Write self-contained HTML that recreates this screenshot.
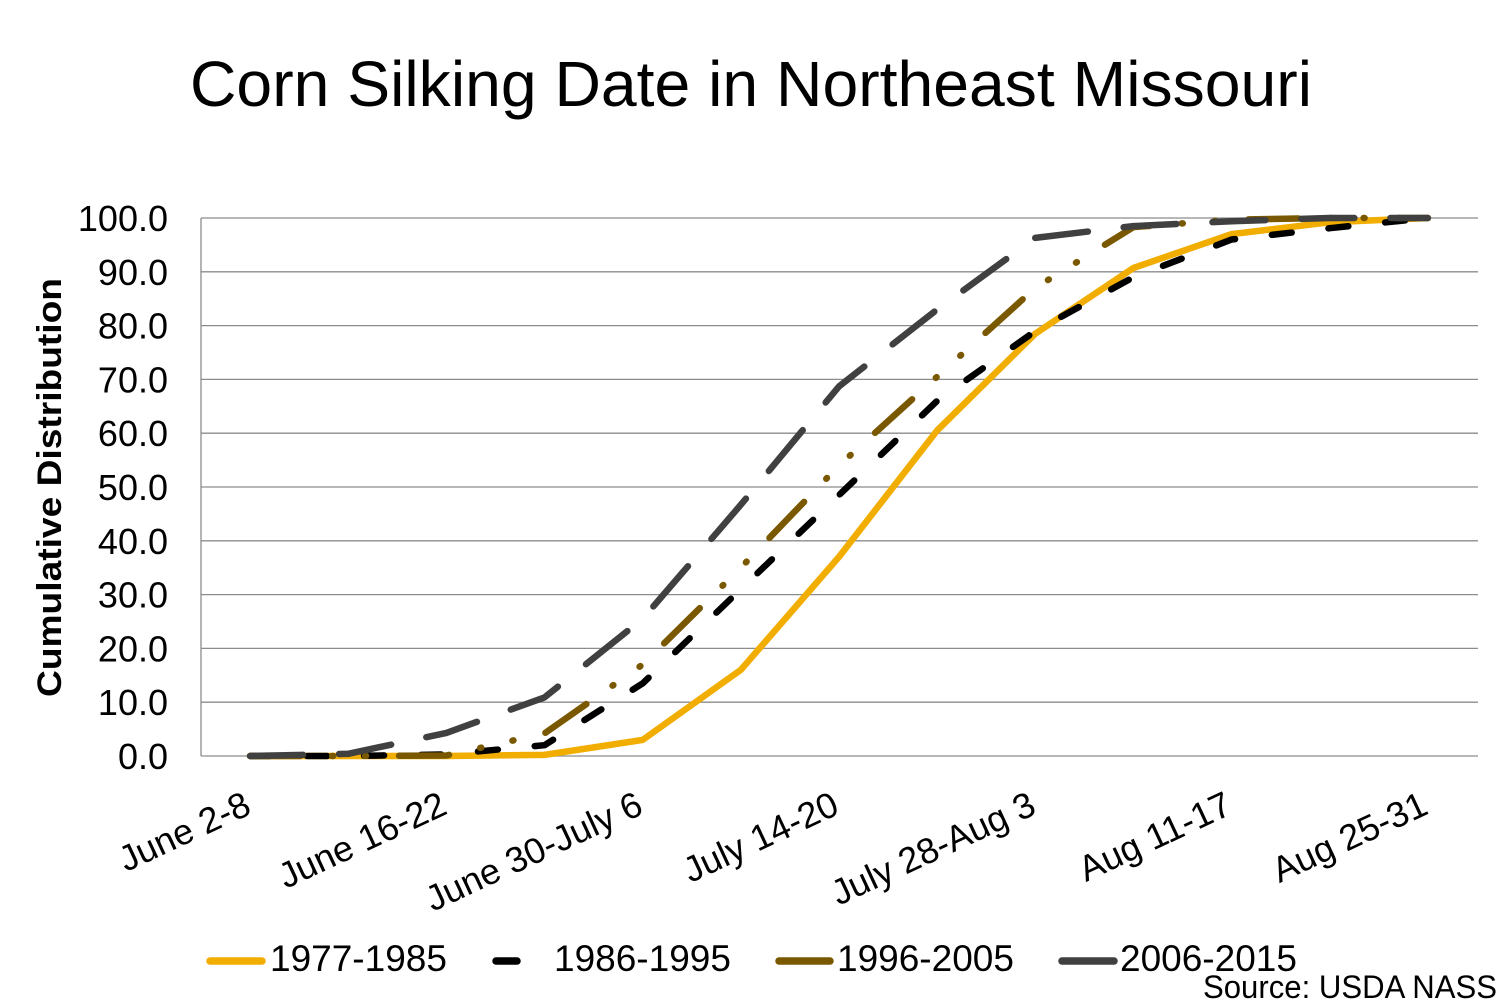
<!DOCTYPE html>
<html>
<head>
<meta charset="utf-8">
<style>
  html, body { margin: 0; padding: 0; background: #fff; }
  svg { display: block; }
  text { font-family: "Liberation Sans", Arial, sans-serif; fill: #000; }
</style>
</head>
<body>
<svg width="1500" height="1000" viewBox="0 0 1500 1000" xmlns="http://www.w3.org/2000/svg">
  <rect x="0" y="0" width="1500" height="1000" fill="#fff"/>

  <!-- Title -->
  <text x="190" y="106" font-size="64" textLength="1122" lengthAdjust="spacingAndGlyphs">Corn Silking Date in Northeast Missouri</text>

  <!-- Gridlines -->
  <g stroke="#8c8c8c" stroke-width="1.3">
    <line x1="201" y1="218" x2="1478" y2="218"/>
    <line x1="201" y1="271.8" x2="1478" y2="271.8"/>
    <line x1="201" y1="325.6" x2="1478" y2="325.6"/>
    <line x1="201" y1="379.4" x2="1478" y2="379.4"/>
    <line x1="201" y1="433.2" x2="1478" y2="433.2"/>
    <line x1="201" y1="487" x2="1478" y2="487"/>
    <line x1="201" y1="540.8" x2="1478" y2="540.8"/>
    <line x1="201" y1="594.6" x2="1478" y2="594.6"/>
    <line x1="201" y1="648.4" x2="1478" y2="648.4"/>
    <line x1="201" y1="702.2" x2="1478" y2="702.2"/>
    <line x1="201" y1="756" x2="1478" y2="756"/>
    <line x1="201" y1="218" x2="201" y2="756"/>
  </g>

  <!-- Y tick labels -->
  <g font-size="36" text-anchor="end">
    <text x="168" y="231">100.0</text>
    <text x="168" y="284.8">90.0</text>
    <text x="168" y="338.6">80.0</text>
    <text x="168" y="392.4">70.0</text>
    <text x="168" y="446.2">60.0</text>
    <text x="168" y="500">50.0</text>
    <text x="168" y="553.8">40.0</text>
    <text x="168" y="607.6">30.0</text>
    <text x="168" y="661.4">20.0</text>
    <text x="168" y="715.2">10.0</text>
    <text x="168" y="769">0.0</text>
  </g>

  <!-- Y axis title -->
  <text transform="translate(61,487.5) rotate(-90)" text-anchor="middle" font-size="34" font-weight="bold" textLength="419" lengthAdjust="spacingAndGlyphs">Cumulative Distribution</text>

  <!-- X tick labels -->
  <g font-size="36" text-anchor="end">
    <text transform="translate(253,813) rotate(-25)">June 2-8</text>
    <text transform="translate(449,813) rotate(-25)">June 16-22</text>
    <text transform="translate(645,813) rotate(-25)">June 30-July 6</text>
    <text transform="translate(841,813) rotate(-25)">July 14-20</text>
    <text transform="translate(1038,813) rotate(-25)">July 28-Aug 3</text>
    <text transform="translate(1234,813) rotate(-25)">Aug 11-17</text>
    <text transform="translate(1430,813) rotate(-25)">Aug 25-31</text>
  </g>

  <!-- Series -->
  <g fill="none" stroke-width="6.5" stroke-linecap="round" stroke-linejoin="round">
    <!-- 1977-1985 -->
    <polyline stroke="#F1AD00"
      points="250.1,756 348.2,756 446.4,756 544.5,754.9 642.7,739.9 740.8,669.9 839,556.9 937.1,430.5 1035.3,333.7 1133.4,268 1231.6,234.1 1329.7,222.3 1427.9,218"/>
    <!-- 1986-1995 -->
    <polyline stroke="#000000" stroke-dasharray="20 37"
      points="250.1,756 348.2,756 446.4,754.4 544.5,745.2 642.7,683.4 740.8,589.2 839,495.1 937.1,400.9 1035.3,331 1133.4,277.2 1231.6,239.5 1329.7,228.2 1427.9,218"/>
    <!-- 1996-2005 -->
    <polyline stroke="#7A5800" stroke-dasharray="50 32 1 32 1 33"
      points="250.1,756 348.2,756 446.4,755.5 544.5,733.4 642.7,664.5 740.8,567.7 839,465.5 937.1,376.7 1035.3,287.9 1133.4,227.1 1231.6,219.6 1329.7,218 1427.9,218"/>
    <!-- 2006-2015 -->
    <polyline stroke="#404040" stroke-dasharray="53 36"
      points="250.1,756 348.2,753.8 446.4,732.9 544.5,697.4 642.7,618.8 740.8,504.8 839,386.4 937.1,309.5 1035.3,237.9 1133.4,226.1 1231.6,221.2 1329.7,218 1427.9,218"/>
  </g>

  <!-- Legend -->
  <g stroke-width="7.5" stroke-linecap="round">
    <line x1="210" y1="961" x2="262" y2="961" stroke="#F1AD00"/>
    <line x1="496" y1="961" x2="517" y2="961" stroke="#000000"/>
    <line x1="779" y1="961" x2="830" y2="961" stroke="#7A5800"/>
    <line x1="1062" y1="961" x2="1114" y2="961" stroke="#404040"/>
  </g>
  <g font-size="37">
    <text x="270" y="971">1977-1985</text>
    <text x="554" y="971">1986-1995</text>
    <text x="837" y="971">1996-2005</text>
    <text x="1120" y="971">2006-2015</text>
  </g>

  <!-- Source -->
  <text x="1203" y="998" font-size="32" textLength="294" lengthAdjust="spacingAndGlyphs">Source: USDA NASS</text>
</svg>
</body>
</html>
